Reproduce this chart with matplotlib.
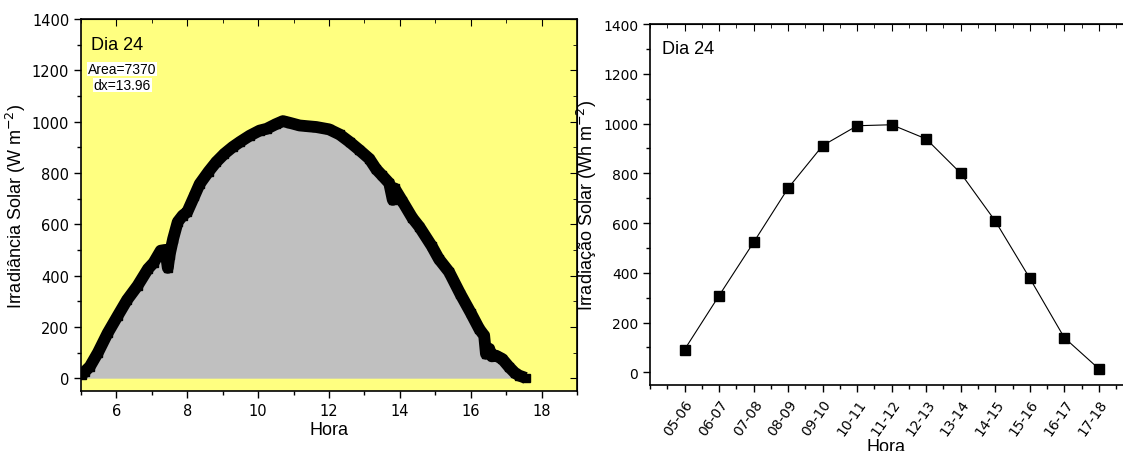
import matplotlib
matplotlib.use("Agg")
import matplotlib.pyplot as plt
from matplotlib.ticker import MultipleLocator

plt.rcParams['font.family'] = ['Liberation Sans', 'DejaVu Sans']

# Left panel: irradiance (W m-2) vs hour
hora = [5.02, 5.10, 5.25, 5.48, 5.75, 6.04, 6.30, 6.60, 6.89, 7.05, 7.25, 7.38,
        7.45, 7.50, 7.60, 7.73, 7.87, 8.00, 8.20, 8.35, 8.60, 8.82, 9.05, 9.28,
        9.50, 9.76, 10.04, 10.24, 10.50, 10.70, 10.90, 11.17, 11.40, 11.64, 12.00,
        12.30, 12.58, 12.85, 13.14, 13.33, 13.50, 13.70, 13.80, 13.85, 14.07, 14.35,
        14.55, 14.90, 15.10, 15.39, 15.70, 16.00, 16.24, 16.38, 16.43, 16.52, 16.60,
        16.71, 16.89, 17.08, 17.25, 17.37, 17.55]
irradiancia = [12, 25, 45, 100, 175, 244, 305, 361, 426, 450, 497, 500,
               430, 480, 543, 609, 634, 648, 710, 757, 805, 843, 875, 901,
               922, 945, 965, 972, 990, 1002, 995, 985, 982, 979, 970,
               950, 921, 890, 855, 815, 790, 760, 695, 740, 690, 625,
               590, 515, 465, 414, 330, 255, 192, 166, 95, 115, 85,
               88, 75, 44, 20, 10, 1]

# Right panel: hourly irradiation (Wh m-2)
intervalos = ['05-06', '06-07', '07-08', '08-09', '09-10', '10-11', '11-12',
              '12-13', '13-14', '14-15', '15-16', '16-17', '17-18']
irradiacao = [91, 308, 522, 740, 911, 991, 995, 938, 800, 608, 378, 139, 14]

TICKFONT = ['DejaVu Sans']

W, H = 1123, 452
fig = plt.figure(figsize=(W / 100, H / 100), dpi=100)


def style_ticks(ax, size):
    ax.tick_params(which='both', direction='out', labelsize=size, colors='black')
    ax.tick_params(which='major', length=5, width=1)
    ax.tick_params(which='minor', length=3, width=1)
    for lab in ax.get_xticklabels() + ax.get_yticklabels():
        lab.set_family(TICKFONT)


# ---------- left panel ----------
ax1 = fig.add_axes([81 / W, 1 - 392 / H, (577 - 81) / W, (392 - 20) / H])
ax1.set_facecolor('#FFFF80')
ax1.fill_between(hora, irradiancia, 0, color='#C0C0C0', lw=0, zorder=2)
ax1.plot(hora, irradiancia, color='black', lw=8.5, marker='s', ms=6,
         solid_joinstyle='round', solid_capstyle='butt', zorder=3)
ax1.set_xlim(5, 19)
ax1.set_ylim(-50, 1400)
ax1.xaxis.set_major_locator(MultipleLocator(2))
ax1.xaxis.set_minor_locator(MultipleLocator(1))
ax1.yaxis.set_major_locator(MultipleLocator(200))
ax1.yaxis.set_minor_locator(MultipleLocator(100))
style_ticks(ax1, 10.5)
for s in ax1.spines.values():
    s.set_linewidth(1.2)
ax1.set_xlabel('Hora', fontsize=13, labelpad=2)
ax1.set_ylabel('Irradiância Solar (W m$^{-2}$)', fontsize=13, labelpad=3)
ax1_top = ax1.secondary_xaxis('top')
ax1_top.xaxis.set_major_locator(MultipleLocator(2))
ax1_top.xaxis.set_minor_locator(MultipleLocator(1))
ax1_top.tick_params(which='both', direction='in', labeltop=False)
ax1_top.tick_params(which='major', length=5)
ax1_top.tick_params(which='minor', length=3)
ax1_right = ax1.secondary_yaxis('right')
ax1_right.yaxis.set_major_locator(MultipleLocator(200))
ax1_right.yaxis.set_minor_locator(MultipleLocator(100))
ax1_right.tick_params(which='both', direction='in', labelright=False)
ax1_right.tick_params(which='major', length=5)
ax1_right.tick_params(which='minor', length=3)

ax1.text(0.02, 0.955, 'Dia 24', transform=ax1.transAxes, fontsize=13,
         va='top', ha='left')
ax1.text(122, H - 70, 'Area=7370', transform=None, fontsize=10, va='center',
         ha='center', bbox=dict(facecolor='white', edgecolor='none', pad=0.3))
ax1.text(122.5, H - 86, 'dx=13.96', transform=None, fontsize=10, va='center',
         ha='center', bbox=dict(facecolor='white', edgecolor='none', pad=0.3))

# ---------- right panel ----------
ax2 = fig.add_axes([650 / W, 1 - 385.7 / H, (W - 650) / W, (385.7 - 25) / H])
pos = list(range(1, len(intervalos) + 1))
ax2.plot(pos, irradiacao, color='black', lw=0.8, marker='s', ms=6.5,
         markeredgecolor='black')
ax2.set_xlim(0, 13.7)
ax2.set_ylim(-50, 1400)
ax2.set_xticks(pos)
ax2.set_xticklabels(intervalos, rotation=55, ha='right', rotation_mode='anchor')
ax2.xaxis.set_minor_locator(MultipleLocator(0.5))
ax2.yaxis.set_major_locator(MultipleLocator(200))
ax2.yaxis.set_minor_locator(MultipleLocator(100))
style_ticks(ax2, 10)
ax2.spines['right'].set_visible(False)
for s in ax2.spines.values():
    s.set_linewidth(1.2)
ax2_top = ax2.secondary_xaxis('top')
ax2_top.set_xticks(pos)
ax2_top.xaxis.set_minor_locator(MultipleLocator(0.5))
ax2_top.tick_params(which='both', direction='in', labeltop=False)
ax2_top.tick_params(which='major', length=5)
ax2_top.tick_params(which='minor', length=3)
ax2.set_xlabel('Hora', fontsize=13, labelpad=0)
ax2.set_ylabel('Irradiação Solar (Wh m$^{-2}$)', fontsize=13, labelpad=3)
ax2.text(0.025, 0.955, 'Dia 24', transform=ax2.transAxes, fontsize=13,
         va='top', ha='left')

fig.savefig('out.png', dpi=100)
